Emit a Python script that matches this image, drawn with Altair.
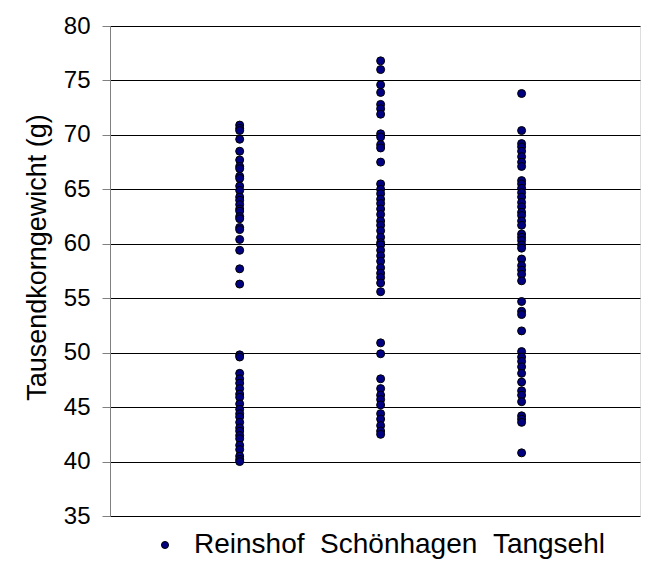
import altair as alt
import pandas as pd

sites = ["Reinshof", "Schönhagen", "Tangsehl"]
site_pos = [1, 2, 3]

reinshof = [70.9, 70.6, 70.4, 69.6, 68.5, 67.7, 67.1, 66.9, 66.2, 66.0, 65.3, 64.9,
            64.3, 64.0, 63.6, 63.2, 63.0, 62.5, 62.3, 61.5, 61.3, 60.4, 59.4, 57.7,
            56.3, 49.8, 49.6, 48.1, 47.6, 47.2, 46.7, 46.2, 45.9, 45.3, 44.8, 44.4,
            44.1, 43.6, 43.1, 42.8, 42.4, 42.1, 41.5, 41.1, 40.5, 40.2, 40.0]
schoenhagen = [76.8, 76.0, 74.6, 73.9, 72.8, 72.4, 71.9, 70.1, 69.8, 69.1, 68.8, 67.5,
               65.5, 65.0, 64.6, 64.1, 63.7, 63.2, 62.7, 62.1, 61.7, 61.2, 60.6, 60.1,
               59.9, 59.4, 58.9, 58.4, 57.8, 57.3, 56.9, 56.4, 55.6, 50.9, 49.9, 47.6,
               46.7, 46.1, 45.7, 45.2, 44.4, 43.9, 43.3, 42.8, 42.5]
tangsehl = [73.8, 70.4, 69.2, 68.9, 68.5, 68.0, 67.5, 67.1, 65.8, 65.5, 65.1, 64.7,
            64.3, 63.8, 63.4, 62.9, 62.6, 62.1, 61.7, 60.9, 60.6, 60.3, 59.9, 59.6,
            58.6, 58.0, 57.6, 57.2, 56.6, 54.7, 53.8, 53.5, 52.0, 50.1, 49.6, 49.2,
            48.7, 48.1, 47.3, 46.5, 46.1, 45.5, 44.2, 43.9, 43.6, 40.8]

series_name = "Reinshof\u00a0\u00a0Schönhagen\u00a0\u00a0Tangsehl"

rows = []
for pos, vals in zip(site_pos, [reinshof, schoenhagen, tangsehl]):
    for v in vals:
        rows.append({"pos": pos, "tkg": v, "series": series_name})
df = pd.DataFrame(rows)

font = "Liberation Sans"

chart = alt.Chart(df).mark_point(
    shape="circle", filled=True, size=64, fill="#000080", stroke="black",
    strokeWidth=1, opacity=1
).encode(
    x=alt.X("pos:Q", scale=alt.Scale(domain=[0.08, 3.84], nice=False, zero=False),
            axis=None),
    y=alt.Y("tkg:Q", scale=alt.Scale(domain=[35, 80], nice=False, zero=False),
            axis=alt.Axis(
                values=list(range(35, 81, 5)),
                title="Tausendkorngewicht (g)",
                titleFont=font, titleFontSize=27, titleFontWeight="normal",
                titleColor="black", titleAngle=270, titleX=-73, titleY=231,
                titleAlign="center", titleBaseline="middle",
                labelFont=font, labelFontSize=24, labelColor="black",
                labelPadding=12, tickSize=8, tickColor="#808080",
                domainColor="#808080", gridColor="black", gridWidth=1,
                gridOpacity=1,
            )),
    color=alt.Color("series:N", scale=alt.Scale(range=["#000080"]),
                    legend=alt.Legend(
                        title=None, orient="none", legendX=41, legendY=505,
                        labelFont=font, labelFontSize=28, labelColor="black",
                        symbolType="circle", symbolSize=50,
                        symbolFillColor="#000080", symbolStrokeColor="black",
                        symbolStrokeWidth=1, labelOffset=15, padding=0,
                        labelLimit=600,
                    )),
).properties(
    width=530, height=490,
    autosize=alt.AutoSizeParams(type="none"),
    padding={"left": 102, "top": 18, "right": 6, "bottom": 53},
).configure_view(stroke=None).configure(background="white")

chart.save("out.html", embed_options={"renderer": "svg", "actions": False})
